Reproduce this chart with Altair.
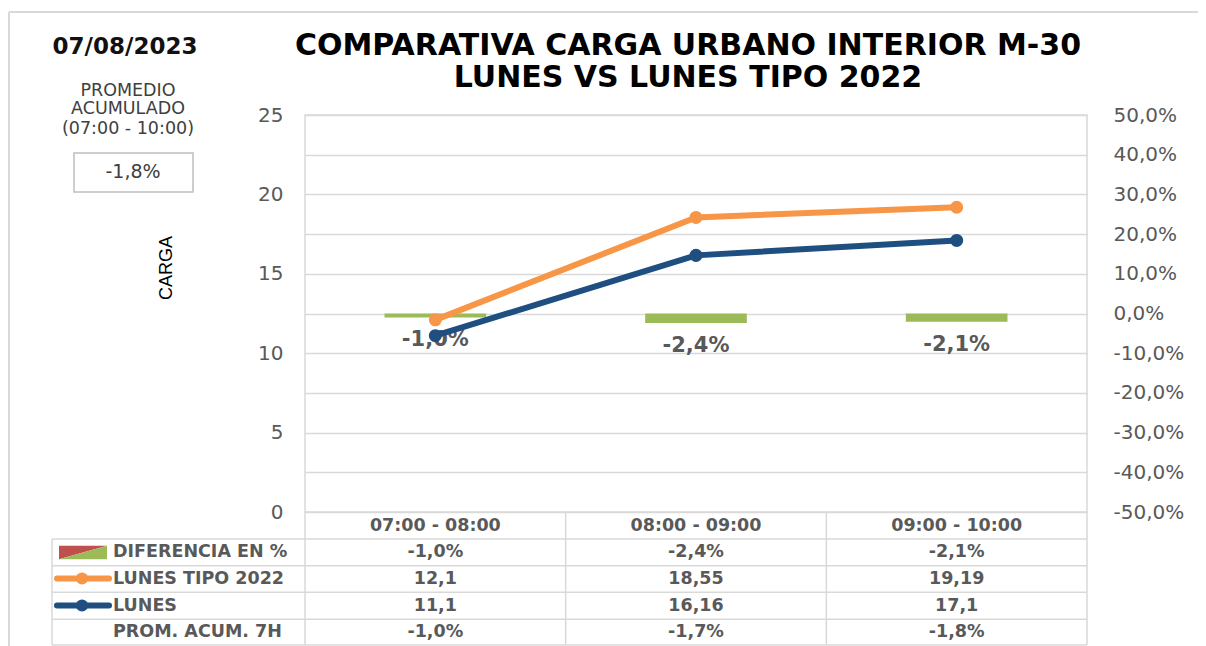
import altair as alt
import pandas as pd

# ---------------- data ----------------
categories = ["07:00 - 08:00", "08:00 - 09:00", "09:00 - 10:00"]
diff_pct = [-1.0, -2.4, -2.1]            # DIFERENCIA EN %
lunes_tipo_2022 = [12.1, 18.55, 19.19]   # LUNES TIPO 2022
lunes = [11.1, 16.16, 17.1]              # LUNES
prom_acum = [-1.0, -1.7, -1.8]           # PROM. ACUM. 7H
left_ticks = [0, 5, 10, 15, 20, 25]
right_ticks = [-0.5, -0.4, -0.3, -0.2, -0.1, 0.0, 0.1, 0.2, 0.3, 0.4, 0.5]
row_labels = ["DIFERENCIA EN %", "LUNES TIPO 2022", "LUNES", "PROM. ACUM. 7H"]
title_lines = ["COMPARATIVA CARGA URBANO INTERIOR M-30", "LUNES VS LUNES TIPO 2022"]
date_text = "07/08/2023"
promedio_lines = ["PROMEDIO", "ACUMULADO", "(07:00 - 10:00)"]
promedio_value = "-1,8%"
y_title = "CARGA"

# ---------------- style ----------------
GREEN = "#9BBB59"
RED = "#C0504D"
ORANGE = "#F79646"
BLUE = "#1F4E80"
GRID = "#D9D9D9"
TXT = "#595959"
FONT = "DejaVu Sans"

W, H = 782, 397


def es_num(v):
    return str(v).replace(".", ",")


def es_pct(v):
    return f"{v:.1f}%".replace(".", ",")


df = pd.DataFrame({
    "cat": categories,
    "diff": [v / 100 for v in diff_pct],
    "tipo": lunes_tipo_2022,
    "lunes": lunes,
    "diff_lbl": [es_pct(v) for v in diff_pct],
    "tipo_lbl": [es_num(v) for v in lunes_tipo_2022],
    "lunes_lbl": [es_num(v) for v in lunes],
    "prom_lbl": [es_pct(v) for v in prom_acum],
})

band = alt.Scale(type="band", domain=categories, paddingInner=0, paddingOuter=0)


def X(center=True):
    if center:
        return alt.X("cat:N", sort=categories, scale=band, axis=None, bandPosition=0.5)
    return alt.X("cat:N", sort=categories, scale=band, axis=None)


pct_scale = alt.Scale(domain=[-0.5, 0.5], nice=False)
carga_scale = alt.Scale(domain=[0, 25], nice=False)

base = alt.Chart(df)

bars = base.mark_bar(color=GREEN, width=alt.RelativeBandSize(0.39)).encode(
    x=X(False),
    y=alt.Y("diff:Q", scale=pct_scale, title=None,
            axis=alt.Axis(orient="right", values=right_ticks, grid=True, gridColor=GRID,
                          gridWidth=1.5, domain=False, ticks=False, labelPadding=26,
                          labelFont=FONT, labelFontSize=20, labelColor=TXT,
                          labelAlign="left",
                          labelExpr="(datum.value < -0.0001 ? '-' : '') + replace(format(abs(datum.value), '.1%'), '.', ',')")),
)

bar_labels = base.mark_text(dy=23, baseline="middle", fontWeight="bold", fontSize=21,
                            color=TXT, font=FONT).encode(
    x=X(),
    y=alt.Y("diff:Q", scale=pct_scale, axis=None),
    text="diff_lbl:N",
)

line_tipo = base.mark_line(color=ORANGE, strokeWidth=6, strokeCap="round",
                           point=alt.OverlayMarkDef(filled=True, size=170, color=ORANGE)).encode(
    x=X(),
    y=alt.Y("tipo:Q", scale=carga_scale, title=None,
            axis=alt.Axis(orient="left", values=left_ticks, grid=False, domain=False, ticks=False,
                          labelPadding=22, labelFont=FONT, labelFontSize=20, labelColor=TXT)),
)

line_lunes = base.mark_line(color=BLUE, strokeWidth=6, strokeCap="round",
                            point=alt.OverlayMarkDef(filled=True, size=170, color=BLUE)).encode(
    x=X(),
    y=alt.Y("lunes:Q", scale=carga_scale, axis=None),
)

layers = [bars, bar_labels, line_tipo, line_lunes]

# ---------------- data table ----------------
ROW_Y = [437, 463.5, 490.5, 517]
HEADER_Y = 410.5
TFS = 17.5
layers.append(base.mark_text(fontWeight="bold", fontSize=TFS, color=TXT, font=FONT, baseline="middle").encode(
    x=X(), y=alt.value(HEADER_Y), text="cat:N"))
for field, yy in zip(["diff_lbl", "tipo_lbl", "lunes_lbl", "prom_lbl"], ROW_Y):
    layers.append(base.mark_text(fontWeight="bold", fontSize=TFS, color=TXT, font=FONT, baseline="middle").encode(
        x=X(), y=alt.value(yy), text=f"{field}:N"))

for lbl, yy in zip(row_labels, ROW_Y):
    layers.append(alt.Chart(pd.DataFrame({"t": [lbl]})).mark_text(
        fontWeight="bold", fontSize=TFS, color=TXT, font=FONT, align="left", baseline="middle").encode(
        x=alt.value(-192), y=alt.value(yy), text="t:N"))

one = pd.DataFrame({"k": [0]})


def rule(x1, x2, y1, y2, color=GRID, w=1.5):
    return alt.Chart(one).mark_rule(color=color, strokeWidth=w).encode(
        x=alt.value(x1), x2=alt.value(x2), y=alt.value(y1), y2=alt.value(y2))


TABLE_TOP = 397
ROW_LINES = [424, 450.7, 477.3, 504.3, 530]
for yy in ROW_LINES:
    layers.append(rule(-253, W, yy, yy))
layers.append(rule(-253, -253, ROW_LINES[0], ROW_LINES[-1]))
for xx in [0, W / 3, 2 * W / 3, W]:
    layers.append(rule(xx, xx, TABLE_TOP, ROW_LINES[-1]))

# legend icons
layers.append(alt.Chart(one).mark_point(
    shape="M-1,-0.28L1,-0.28L-1,0.28Z", filled=True, color=RED, opacity=1, size=2304, strokeWidth=0).encode(
    x=alt.value(-222), y=alt.value(437.5)))
layers.append(alt.Chart(one).mark_point(
    shape="M1,-0.28L1,0.28L-1,0.28Z", filled=True, color=GREEN, opacity=1, size=2304, strokeWidth=0).encode(
    x=alt.value(-222), y=alt.value(437.5)))
for col, yy in [(ORANGE, 463.5), (BLUE, 490.5)]:
    layers.append(alt.Chart(one).mark_rule(color=col, strokeWidth=6, strokeCap="round").encode(
        x=alt.value(-248), x2=alt.value(-196), y=alt.value(yy), y2=alt.value(yy)))
    layers.append(alt.Chart(one).mark_circle(color=col, opacity=1, size=150).encode(
        x=alt.value(-223), y=alt.value(yy)))

# ---------------- titles & side annotations ----------------
for t, yy in zip(title_lines, [-69, -37]):
    layers.append(alt.Chart(pd.DataFrame({"t": [t]})).mark_text(
        font=FONT, fontWeight="bold", fontSize=30, color="#000000", baseline="middle").encode(
        x=alt.value(383), y=alt.value(yy), text="t:N"))

layers.append(alt.Chart(pd.DataFrame({"t": [date_text]})).mark_text(
    font=FONT, fontWeight="bold", fontSize=23, color="#111111", baseline="middle").encode(
    x=alt.value(-180), y=alt.value(-68), text="t:N"))

for t, yy in zip(promedio_lines, [-24, -6, 14]):
    layers.append(alt.Chart(pd.DataFrame({"t": [t]})).mark_text(
        font=FONT, fontSize=17.5, color="#404040", baseline="middle").encode(
        x=alt.value(-177), y=alt.value(yy), text="t:N"))

layers.append(alt.Chart(one).mark_rect(fill="white", stroke="#BFBFBF", strokeWidth=1.5).encode(
    x=alt.value(-231), x2=alt.value(-112), y=alt.value(38), y2=alt.value(77)))
layers.append(alt.Chart(pd.DataFrame({"t": [promedio_value]})).mark_text(
    font=FONT, fontSize=19, color="#404040", baseline="middle").encode(
    x=alt.value(-172), y=alt.value(57), text="t:N"))

layers.append(alt.Chart(pd.DataFrame({"t": [y_title]})).mark_text(
    font="Liberation Sans", fontSize=18, color="#000000", baseline="middle", angle=270).encode(
    x=alt.value(-138), y=alt.value(153), text="t:N"))

# outer frame
layers.append(rule(-296, 905, -103, -103, color="#D9D9D9", w=2))
layers.append(rule(-296, -296, -103, 540, color="#D9D9D9", w=2))

chart = alt.layer(*layers).resolve_scale(y="independent").properties(
    width=W, height=H,
    autosize=alt.AutoSizeParams(type="none"),
    padding={"left": 297, "top": 107, "right": 111, "bottom": 134},
    background="white",
).configure_view(stroke=GRID, strokeWidth=1.5)

chart.save("out.html", embed_options={"renderer": "svg", "actions": False})
